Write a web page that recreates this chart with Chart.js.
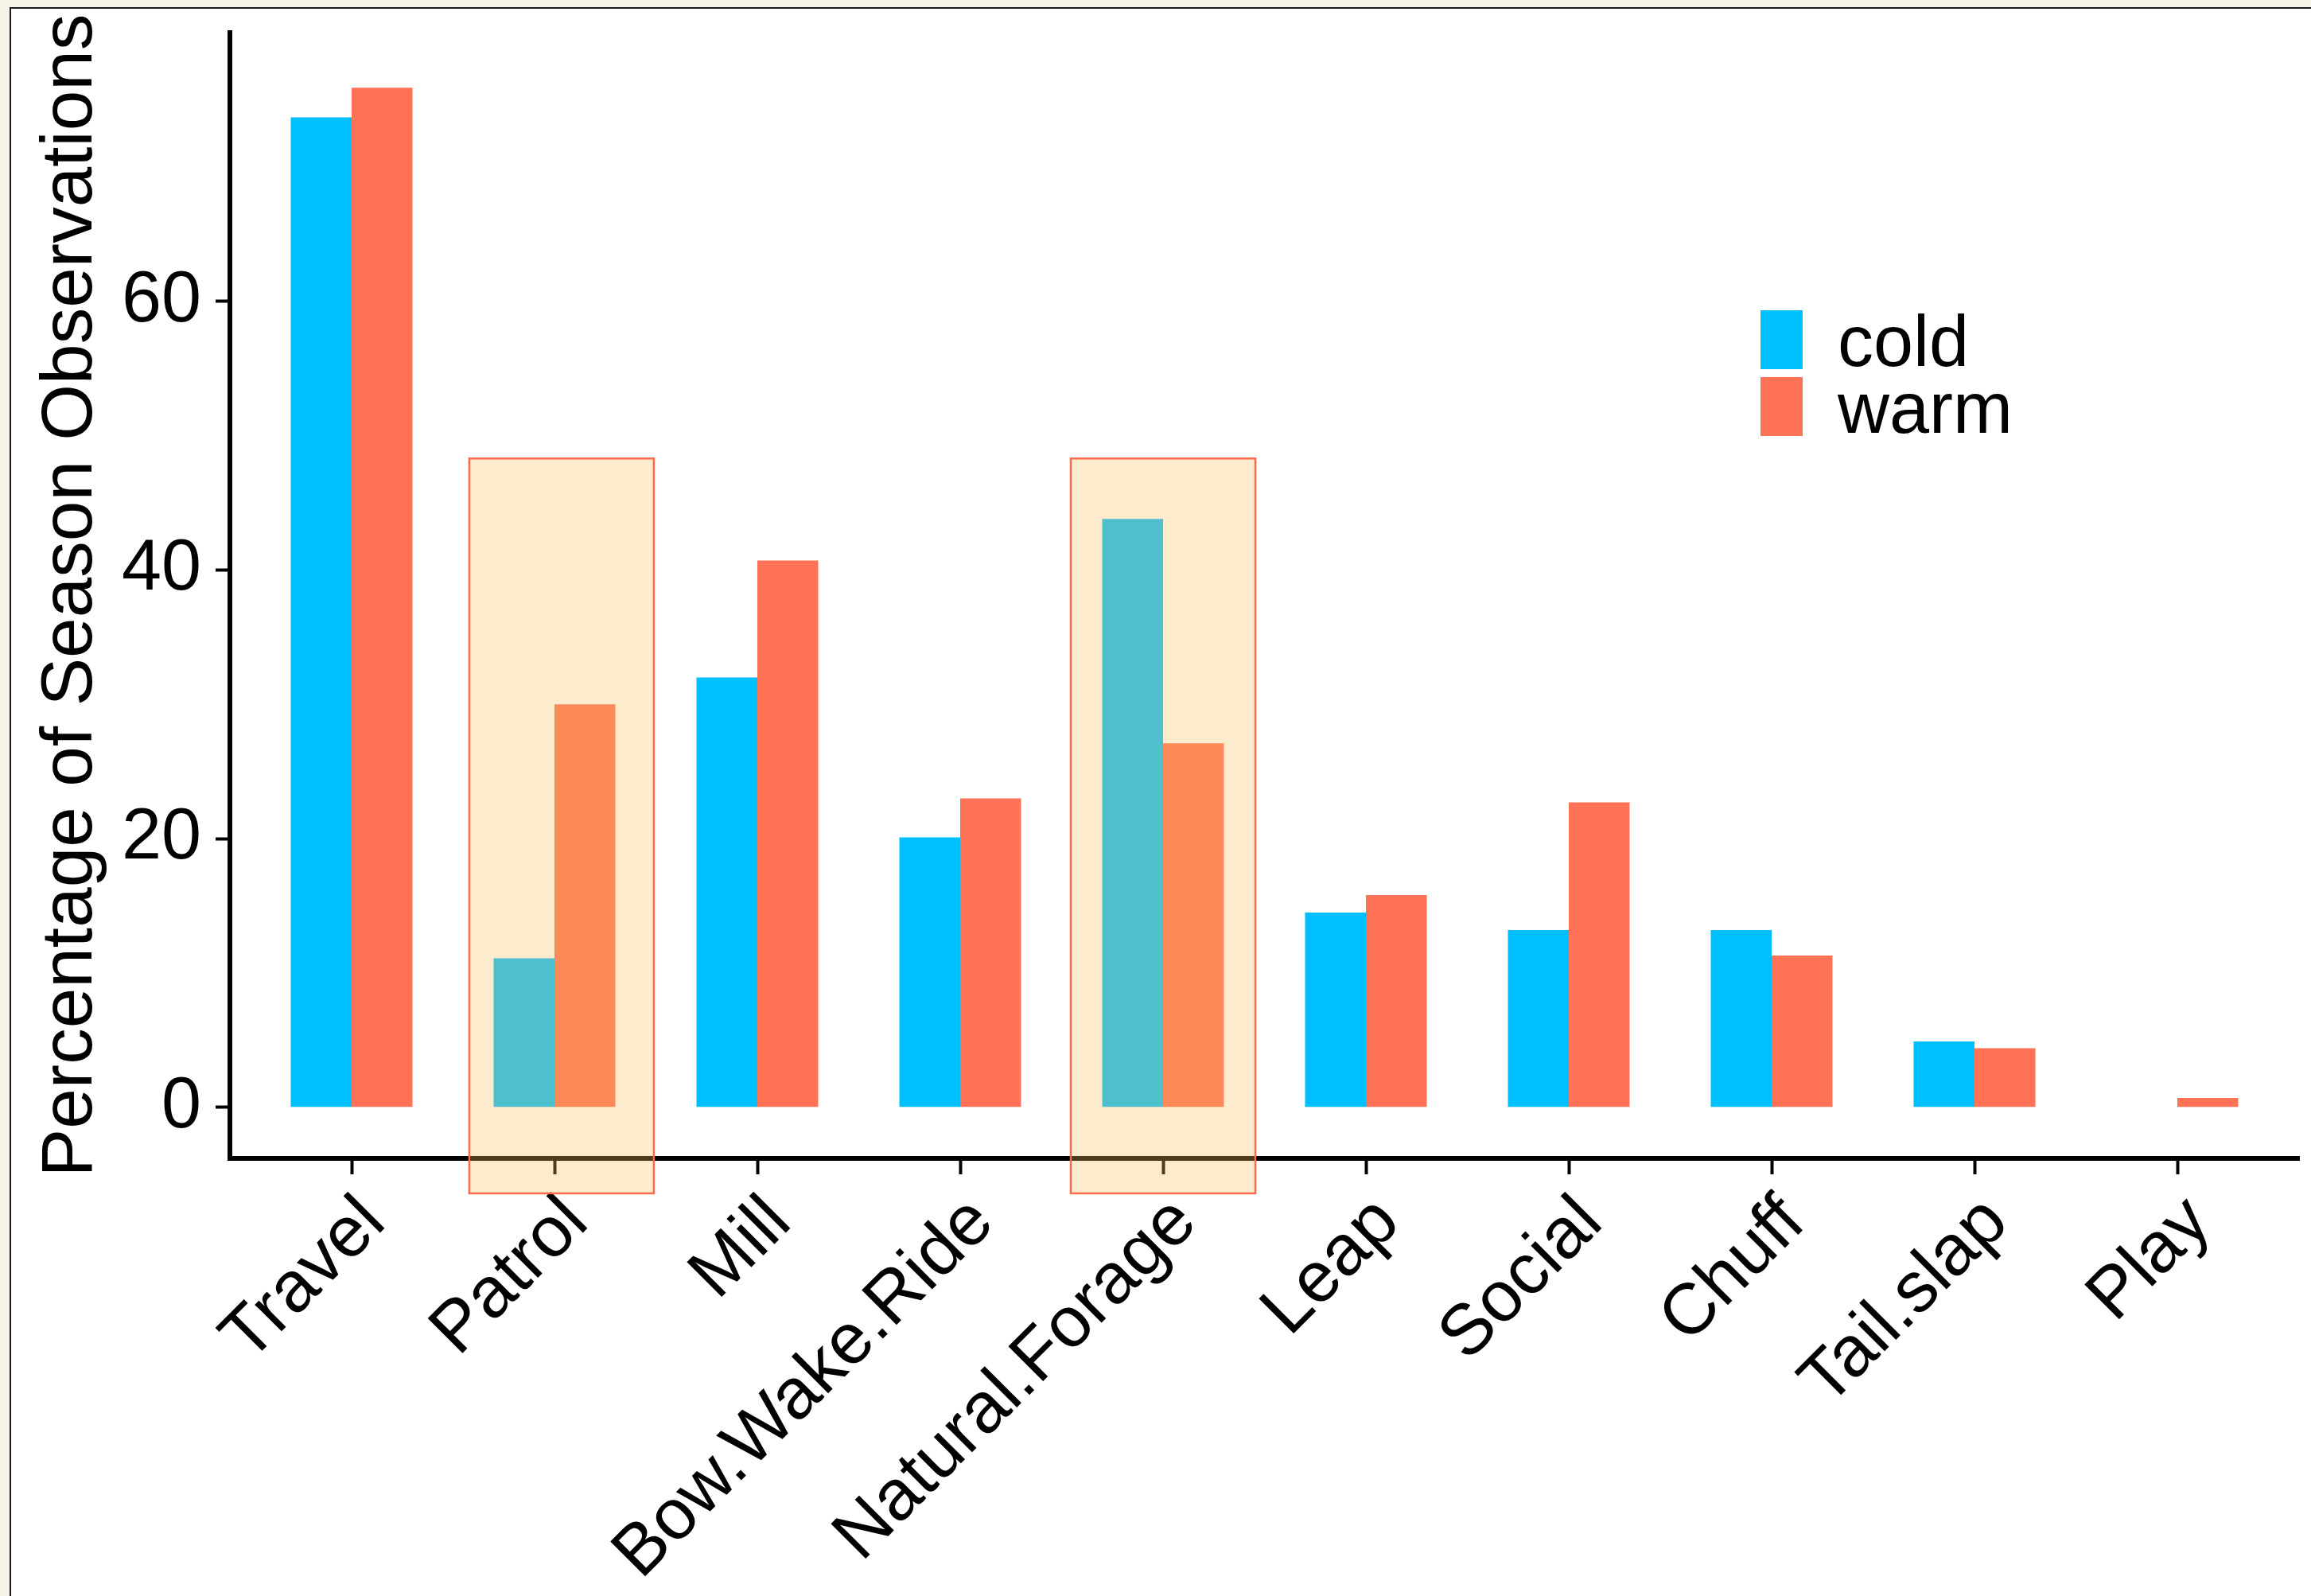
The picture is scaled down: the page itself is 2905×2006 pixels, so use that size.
<!doctype html>
<html lang="en">
<head>
  <meta charset="utf-8">
  <title>Season Observations</title>
  <script src="https://cdn.jsdelivr.net/npm/chart.js"></script>
  <style>
    html, body { margin: 0; padding: 0; background: #f7f3e7; }
    #wrap {
      position: absolute; left: 12px; top: 9px;
      border-left: 2px solid #1a1a1a; border-top: 2px solid #1a1a1a;
      background: #fff;
    }
    canvas { display: block; }
  </style>
</head>
<body>
  <div id="wrap"><canvas id="chart" width="2891" height="1995"></canvas></div>
<script>
  // ---------------- data ----------------
  const cats = ['Travel', 'Patrol', 'Mill', 'Bow.Wake.Ride', 'Natural.Forage',
                'Leap', 'Social', 'Chuff', 'Tail.slap', 'Play']
  const cold = [73.7, 11.1, 32.0, 20.1, 43.8, 14.5, 13.2, 13.2, 4.9, 0]
  const warm = [75.9, 30.0, 40.7, 23.0, 27.1, 15.8, 22.7, 11.3, 4.4, 0.7]
  const yTicks = [0, 20, 40, 60]
  // highlighted categories (x range in category units, y range in %)
  const highlights = [
    { from: 1.58, to: 2.49, top: 48.3, bottom: -6.4 },
    { from: 4.545, to: 5.455, top: 48.3, bottom: -6.4 }
  ]

  const FONT = '"Liberation Sans", Arial, sans-serif'

  // shaded boxes over Patrol / Natural.Forage
  const highlightBoxes = {
    id: 'highlightBoxes',
    afterDatasetsDraw(chart) {
      const { ctx, scales: { x, y } } = chart
      highlights.forEach(h => {
        const l = x.getPixelForValue(h.from), r = x.getPixelForValue(h.to)
        const t = y.getPixelForValue(h.top), b = y.getPixelForValue(h.bottom)
        ctx.save()
        ctx.fillStyle = 'rgba(248,190,94,0.31)'
        ctx.fillRect(l, t, r - l, b - t)
        ctx.strokeStyle = '#ff6a4d'
        ctx.lineWidth = 2.5
        ctx.strokeRect(l, t, r - l, b - t)
        ctx.restore()
      })
    }
  }

  // legend inside the plot, like ggplot's legend.position
  const insideLegend = {
    id: 'insideLegend',
    afterDraw(chart) {
      const ctx = chart.ctx
      ctx.save()
      chart.data.datasets.forEach((ds, i) => {
        const top = 379 + i * 84
        ctx.fillStyle = ds.backgroundColor
        ctx.fillRect(2199, top, 53, 74)
        ctx.fillStyle = '#000'
        ctx.font = `90px ${FONT}`
        ctx.textBaseline = 'alphabetic'
        ctx.fillText(ds.label, 2296, top + 70)
      })
      ctx.restore()
    }
  }

  new Chart(document.getElementById('chart'), {
    type: 'bar',
    data: {
      datasets: [
        { label: 'cold', data: cold.map((v, i) => ({ x: i + 1, y: v })), backgroundColor: '#00bfff' },
        { label: 'warm', data: warm.map((v, i) => ({ x: i + 1, y: v })), backgroundColor: '#ff7256' }
      ]
    },
    options: {
      responsive: false,
      animation: false,
      layout: { padding: { left: 0, top: 30, right: 15, bottom: 0 } },
      datasets: { bar: { categoryPercentage: 0.6, barPercentage: 1.0, borderWidth: 0 } },
      plugins: { legend: { display: false }, tooltip: { enabled: false } },
      scales: {
        x: {
          type: 'linear',
          min: 0.4,
          max: 10.6,
          offset: false,
          afterBuildTicks: s => { s.ticks = cats.map((c, i) => ({ value: i + 1 })) },
          afterFit: s => { s.height = 550; s.paddingLeft = 0; s.paddingRight = 0 },
          ticks: {
            callback: v => cats[v - 1],
            autoSkip: false,
            minRotation: 45,
            maxRotation: 45,
            padding: 8,
            labelOffset: 28,
            color: '#000',
            font: { family: FONT, size: 90 }
          },
          grid: { offset: false, drawOnChartArea: false, tickLength: 20, tickWidth: 4, tickColor: '#000' },
          border: { color: '#000', width: 6 }
        },
        y: {
          min: -3.8,
          max: 80,
          afterBuildTicks: s => { s.ticks = yTicks.map(v => ({ value: v })) },
          afterFit: s => { s.width = 275; s.paddingTop = 0; s.paddingBottom = 0 },
          ticks: {
            padding: 18,
            color: '#000',
            font: { family: FONT, size: 90 }
          },
          grid: { drawOnChartArea: false, tickLength: 18, tickWidth: 4, tickColor: '#000' },
          border: { color: '#000', width: 6 },
          title: {
            display: true,
            text: 'Percentage of Season Observations',
            color: '#000',
            font: { family: FONT, size: 91 },
            padding: { top: 21, bottom: 0 }
          }
        }
      }
    },
    plugins: [highlightBoxes, insideLegend]
  })
</script>
</body>
</html>
